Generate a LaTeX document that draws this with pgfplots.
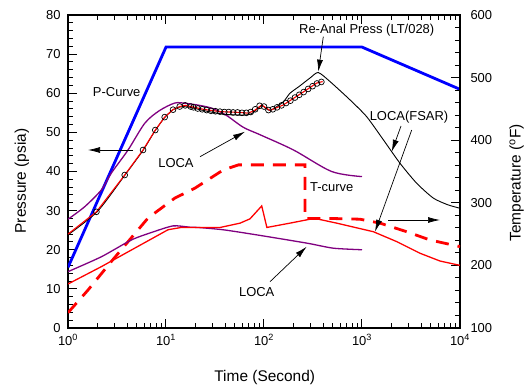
\documentclass[border=0pt]{standalone}
\usepackage{fontspec}
\setmainfont{Liberation Sans}
\usepackage{pgfplots}
\pgfplotsset{compat=1.18}
\usetikzlibrary{arrows.meta}
\definecolor{myblue}{RGB}{0,0,255}
\definecolor{myred}{RGB}{255,0,0}
\definecolor{mypurple}{RGB}{128,0,128}
\tikzset{annarrow/.style={black, line width=0.7bp, -{Latex[length=12bp,width=6bp]}}}
\begin{document}
\begin{tikzpicture}
\useasboundingbox (-68bp,-61bp) rectangle (463bp,328bp);
\begin{axis}[
  at={(0,0)}, anchor=south west,
  scale only axis, width=392bp, height=313bp,
  xmode=log, xmin=1, xmax=10000,
  tick align=inside,
  major tick length=9bp, minor tick length=5bp,
  every tick/.style={black, line width=1bp},
  axis line style={line width=1.3bp},
  tick label style={font=\fontsize{13}{15}\selectfont},
  /pgf/number format/assume math mode=true,
  ymin=0, ymax=80,
  ytick={0,10,...,80}, minor y tick num=4,
  xtick={1,10,100,1000,10000},
  xticklabels={10\textsuperscript{0},10\textsuperscript{1},10\textsuperscript{2},10\textsuperscript{3},10\textsuperscript{4}},
  xtick pos=both, ytick pos=left,
  yticklabel style={xshift=-4bp},
  xticklabel style={yshift=-3bp},
]
% P-Curve
\addplot[myblue, line width=2.8bp] coordinates {(1,15.5) (10,71.8) (1000,71.8) (10000,61.0)};
% LOCA pressure (purple)
\addplot[mypurple, line width=1.3bp, smooth, tension=0.5] coordinates {
(1,27.8) (1.48,31.0) (2.19,35.3) (2.77,39.6) (4.1,45.5) (6.06,52.3) (8.5,55.5) (12.3,57.5) (16,57.4) (22,56.9) (30,56.1) (41.6,54.3) (61.5,51.3) (91,49.4) (200,45.5) (490,40.0) (1000,38.7)};
% LOCA(FSAR) pressure (black)
\addplot[black, line width=0.9bp, smooth, tension=0.4] coordinates {
(1,23.8) (2,29.8) (3.79,39) (5.83,45.4) (7.78,50.5) (9.7,53.8) (11.8,55.8) (14,56.5) (17,56.5) (25,55.5) (40,54.6) (60,54.4) (75,54.8) (94.8,56.8) (115,55.6) (157,57.8) (184,60.0) (230,61.8) (295,63.9) (358,65.3) (471,63.0) (755,58.3) (1117,54.0) (1652,48.1) (2443,42.1) (3613,37.0) (5345,33.2) (7500,31.5) (10000,30.6)};
% Re-Anal Press circles
\addplot[only marks, mark=o, mark size=2.9bp, mark options={black, line width=0.7bp}] coordinates {
(1.95,29.7) (3.79,39.1) (5.83,45.5) (7.78,50.6) (9.7,53.9) (11.8,55.8) (13.8,56.6) (15.7,56.9) (17.9,56.6)
(19.05,56.4) (21.1,56.1) (23.4,55.9) (26.0,55.7) (28.8,55.5) (32.0,55.4) (35.5,55.3) (39.4,55.2) (43.7,55.2) (48.4,55.1) (53.7,55.1) (59.6,55.0) (66.1,55.0) (73.3,55.2) (81.3,55.9) (90.2,56.8) (100,56.6) (111,55.7) (123,55.9) (136,56.4) (151,56.9) (168,57.5) (186,58.1) (207,58.9) (229,59.6) (254,60.3) (282,61.1) (313,61.8) (347,62.5) (385,62.9)};
% Re-Anal Press line (red)
\addplot[myred, line width=1.1bp] coordinates {
(1,24) (1.95,29.7) (3.79,39.1) (5.83,45.5) (7.78,50.6) (9.7,53.9) (11.8,55.8) (13.8,56.6) (15.7,56.9) (19.6,56.4) (24,55.9) (35.6,55.3) (45,55.2) (57,55.1) (69,54.9) (80,55.6) (94.8,57.0) (115,55.6) (157,57.0) (215,59.2) (273,60.9) (345,62.6) (397,63.0)};
\end{axis}
\begin{axis}[
  at={(0,0)}, anchor=south west,
  scale only axis, width=392bp, height=313bp,
  xmode=log, xmin=1, xmax=10000,
  tick align=inside,
  major tick length=9bp, minor tick length=5bp,
  every tick/.style={black, line width=1bp},
  axis line style={line width=1.3bp},
  tick label style={font=\fontsize{13}{15}\selectfont},
  /pgf/number format/assume math mode=true,
  ymin=100, ymax=600,
  ytick={100,200,...,600}, minor y tick num=4,
  axis y line*=right, hide x axis,
  yticklabel style={xshift=7bp},
]
% T-curve (red dashed)
\addplot[myred, line width=2.8bp, dash pattern=on 13bp off 9bp] coordinates {
(1,124.4) (1.6,160.6) (2.77,206.3) (6.55,275.6) (12.3,307.5) (19.6,323.1) (38.4,352.5) (55,360.6) (262,360.6) (262,275) (471,275) (955,273.8) (1528,267.5) (2857,253.8) (4943,240.6) (10000,230)};
% LOCA temperature (purple)
\addplot[mypurple, line width=1.3bp, smooth, tension=0.4] coordinates {
(1,190) (2.19,213.8) (4.43,240.6) (7.08,252.5) (11.8,263.1) (17.6,261) (21.2,260.6) (38.4,256.9) (84,248.8) (273,235.6) (509,227.5) (1000,225)};
% LOCA(FSAR) temperature (red)
\addplot[myred, line width=1.3bp] coordinates {
(1,170.3) (2.19,198) (4.79,227.5) (10.5,257) (14.3,260.6) (17.6,260.6) (35.7,260.6) (57,267.5) (72,274.4) (94.8,295) (107,260.6) (184,267.5) (295,273.8) (345,274.4) (552,267.5) (1306,253.8) (2260,238) (3908,219.4) (6250,207) (9610,200.6) (10000,200.3)};
\end{axis}
% labels
\node[font=\fontsize{15.5}{18}\selectfont] at (196.7bp,-50bp) {Time (Second)};
\node[font=\fontsize{15.5}{18}\selectfont, rotate=90] at (-46bp,147bp) {Pressure (psia)};
\node[font=\fontsize{15.5}{18}\selectfont, rotate=90] at (448.7bp,145bp) {Temperature (\textsuperscript{o}F)};
% annotations
\begin{scope}[font=\fontsize{13}{15}\selectfont]
\node at (48.7bp,235.7bp) {P-Curve};
\node at (108bp,165bp) {LOCA};
\draw[annarrow] (132bp,171.3bp) -- (177bp,196.3bp);
\draw[annarrow] (65bp,178bp) -- (20bp,178bp);
\node at (298.7bp,298bp) {Re-Anal Press (LT/028)};
\draw[annarrow] (255.3bp,291.3bp) -- (250.3bp,256.3bp);
\node at (341bp,210.7bp) {LOCA(FSAR)};
\draw[annarrow] (333bp,202bp) -- (323.7bp,176.3bp);
\draw[annarrow] (343.7bp,198bp) -- (307bp,96.3bp);
\draw[annarrow] (320.3bp,108bp) -- (372bp,108bp);
\node at (263.7bp,140.7bp) {T-curve};
\node at (188.7bp,36.3bp) {LOCA};
\draw[annarrow] (202bp,46.3bp) -- (238.7bp,81.3bp);
\end{scope}
\end{tikzpicture}
\end{document}
